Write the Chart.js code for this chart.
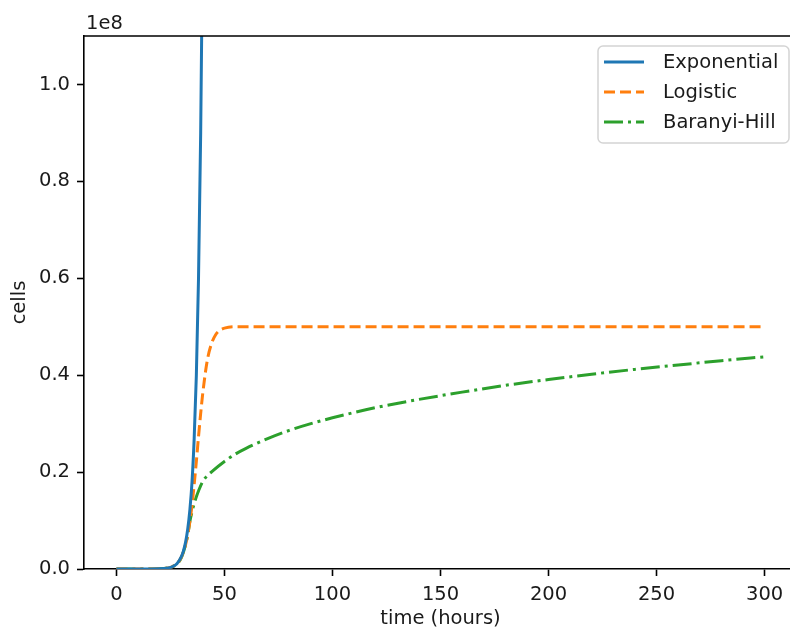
<!DOCTYPE html>
<html>
<head>
<meta charset="utf-8">
<script src="https://cdn.jsdelivr.net/npm/chart.js@4.4.1/dist/chart.umd.min.js"></script>
<style>
  html, body { margin: 0; padding: 0; background: #fff; overflow: hidden; }
  #wrap { position: relative; width: 800px; height: 631px; }
</style>
</head>
<body>
<div id="wrap"><canvas id="growth" width="800" height="631"></canvas></div>
<script>
// --- data (cells vs time in hours) ---
const seriesNames = ['Exponential', 'Logistic', 'Baranyi-Hill'];
const seriesColors = ['#1f77b4', '#ff7f0e', '#2ca02c'];

const expTime  = [0, 10, 20, 24, 26, 28, 30, 31, 32, 33, 34, 35, 36, 37, 38, 39, 40, 41];
const expCells = [0, 1e3, 5e4, 2.2e5, 5e5, 1.1e6, 2.5e6, 3.7e6, 5.5e6, 8.2e6, 1.22e7, 1.8e7, 2.7e7, 4.0e7, 6.0e7, 9.0e7, 1.34e8, 2.0e8];

const logTime  = [0, 10, 20, 24, 26, 28, 30, 32, 33, 34, 35, 36, 37, 38, 39, 40, 42, 44, 46, 48, 50, 55, 100, 150, 200, 250, 300];
const logCells = [0, 1e3, 5e4, 2.2e5, 5e5, 1.1e6, 2.4e6, 5.0e6, 7.1e6, 9.8e6, 1.32e7, 1.75e7, 2.22e7, 2.73e7, 3.21e7, 3.64e7, 4.29e7, 4.65e7, 4.84e7, 4.93e7, 4.97e7, 5.0e7, 5.0e7, 5.0e7, 5.0e7, 5.0e7, 5.0e7];

const bhTime  = [0, 10, 20, 24, 26, 28, 30, 32, 33, 34, 35, 36, 37, 38, 40, 45, 50, 55, 60, 70, 80, 90, 100, 120, 140, 160, 180, 200, 220, 240, 260, 280, 300];
const bhCells = [0, 1e3, 5e4, 2.2e5, 5e5, 1.0e6, 2.3e6, 5.0e6, 7.0e6, 9.8e6, 1.18e7, 1.35e7, 1.49e7, 1.61e7, 1.81e7, 2.04e7, 2.22e7, 2.37e7, 2.49e7, 2.69e7, 2.86e7, 3.0e7, 3.12e7, 3.33e7, 3.5e7, 3.65e7, 3.79e7, 3.91e7, 4.02e7, 4.12e7, 4.21e7, 4.3e7, 4.38e7];

const xTicks = [0, 50, 100, 150, 200, 250, 300];
const yTicks = [0, 0.2e8, 0.4e8, 0.6e8, 0.8e8, 1.0e8];
const xRange = [-15, 315];
const yRange = [0, 1.1e8];

const FONT = 'DejaVu Sans';
const TXT = '#1a1a1a';
const dashes = [[], [11, 5], [19, 5, 3, 5]];

function pts(t, v) { return t.map((x, i) => ({ x: x, y: v[i] })); }

// --- spines, offset text and matplotlib-like legend ---
const frameAndLegend = {
  id: 'frameAndLegend',
  afterDatasetsDraw(chart) {
    const { ctx, chartArea: a } = chart;
    ctx.save();
    ctx.strokeStyle = '#000';
    ctx.lineWidth = 1.6;
    ctx.beginPath();
    ctx.moveTo(a.left, a.top); ctx.lineTo(a.right, a.top); ctx.lineTo(a.right, a.bottom);
    ctx.stroke();

    ctx.fillStyle = TXT;
    ctx.font = '19.5px "' + FONT + '"';
    ctx.textAlign = 'left';
    ctx.textBaseline = 'alphabetic';
    ctx.fillText('1e8', a.left + 2, a.top - 7);

    // legend box
    const bw = 191, bh = 97;
    const bx = a.right - 8 - bw, by = a.top + 10;
    ctx.beginPath();
    ctx.roundRect(bx, by, bw, bh, 5);
    ctx.fillStyle = 'rgba(255,255,255,0.8)';
    ctx.fill();
    ctx.strokeStyle = '#d4d4d4';
    ctx.lineWidth = 1.5;
    ctx.stroke();

    chart.data.datasets.forEach((ds, i) => {
      const yy = by + 16 + i * 30;
      ctx.strokeStyle = ds.borderColor;
      ctx.lineWidth = 3;
      ctx.setLineDash(ds.borderDash || []);
      ctx.beginPath();
      ctx.moveTo(bx + 6, yy); ctx.lineTo(bx + 46, yy);
      ctx.stroke();
      ctx.setLineDash([]);
      ctx.fillStyle = TXT;
      ctx.textBaseline = 'middle';
      ctx.fillText(ds.label, bx + 65, yy + 1);
    });
    ctx.restore();
  }
};

new Chart(document.getElementById('growth'), {
  type: 'line',
  data: {
    datasets: [
      { label: seriesNames[0], data: pts(expTime, expCells) },
      { label: seriesNames[1], data: pts(logTime, logCells) },
      { label: seriesNames[2], data: pts(bhTime, bhCells) }
    ].map((d, i) => Object.assign(d, {
      borderColor: seriesColors[i],
      borderWidth: 3,
      borderDash: dashes[i],
      pointRadius: 0,
      fill: false,
      cubicInterpolationMode: 'monotone'
    }))
  },
  options: {
    responsive: false,
    animation: false,
    devicePixelRatio: 1,
    layout: { padding: { top: 36, right: 3, left: 0, bottom: 0 } },
    plugins: { legend: { display: false }, tooltip: { enabled: false } },
    scales: {
      x: {
        type: 'linear',
        min: xRange[0], max: xRange[1],
        afterBuildTicks: s => { s.ticks = xTicks.map(v => ({ value: v })); },
        afterFit: s => { s.height = 62; },
        grid: { drawOnChartArea: false, drawTicks: true, tickLength: 7, tickWidth: 1.6, tickColor: '#000' },
        border: { display: true, color: '#000', width: 1.6 },
        ticks: { padding: 7, color: TXT, font: { family: FONT, size: 19.5 }, maxRotation: 0, callback: v => String(v) },
        title: { display: true, text: 'time (hours)', color: TXT, font: { family: FONT, size: 19.5 }, padding: { top: 0, bottom: 0 } }
      },
      y: {
        type: 'linear',
        min: yRange[0], max: yRange[1],
        afterBuildTicks: s => { s.ticks = yTicks.map(v => ({ value: v })); },
        afterFit: s => { s.width = 84; },
        grid: { drawOnChartArea: false, drawTicks: true, tickLength: 7, tickWidth: 1.6, tickColor: '#000' },
        border: { display: true, color: '#000', width: 1.6 },
        ticks: { padding: 7, color: TXT, font: { family: FONT, size: 19.5 }, callback: v => (v / 1e8).toFixed(1) },
        title: { display: true, text: 'cells', color: TXT, font: { family: FONT, size: 19.5 }, padding: { top: 8, bottom: 0 } }
      }
    }
  },
  plugins: [frameAndLegend]
});
</script>
</body>
</html>
